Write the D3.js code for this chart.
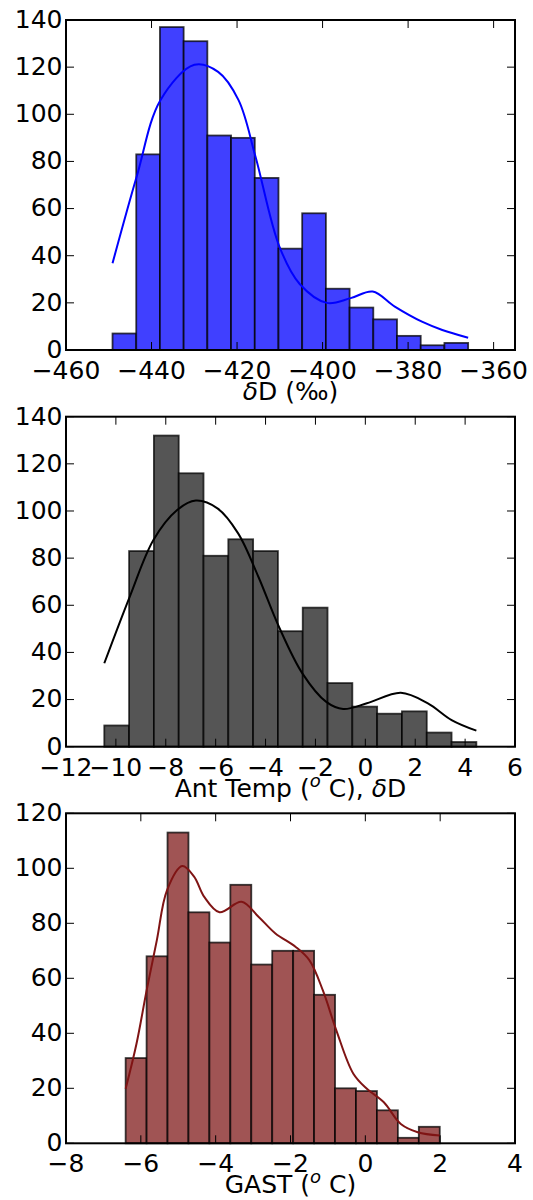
<!DOCTYPE html>
<html><head><meta charset="utf-8">
<script src="https://cdn.jsdelivr.net/npm/d3@7/dist/d3.min.js"></script>
<style>
body{margin:0;background:#fff}
svg text{font-family:"DejaVu Sans",sans-serif;fill:#000}
</style>
</head><body>
<svg id="chart" width="533" height="1200"></svg>
<script>
// ---------- Panel 1: deltaD ----------
const dDCounts = [7, 83, 137, 131, 91, 90, 73, 43, 58, 26, 18, 13, 6, 2, 3];
const dDBinRange = [-449.12, -365.96];
const dDKdeX = [-449.12, -443.48, -437.92, -429.98, -424.42, -419.65, -415.68, -410.12, -405.35, -399.0, -393.44, -388.28, -383.11, -376.76, -372.0, -365.96];
const dDKdeY = [36.8, 73.5, 106, 121, 118, 106, 82, 44, 28, 20, 22, 24.8, 18.4, 12, 8.5, 5.2];
const dDXDomain = [-460, -355];
const dDXTicks = [-460, -440, -420, -400, -380, -360];
const dDYTicks = [0, 20, 40, 60, 80, 100, 120, 140];

// ---------- Panel 2: Antarctic temperature ----------
const antCounts = [9, 83, 132, 116, 81, 88, 83, 49, 59, 27, 17, 14, 15, 6, 2];
const antBinRange = [-10.465, 4.451];
const antKdeX = [-10.465, -9.446, -8.495, -7.544, -6.797, -5.914, -5.099, -4.284, -3.469, -2.518, -1.567, -0.888, 0.063, 1.421, 2.508, 3.459, 4.451];
const antKdeY = [35.4, 63.6, 87.7, 100.4, 104.4, 101, 90.5, 72, 51, 31, 19, 16, 18.4, 22.9, 18.4, 11.3, 6.8];
const antXDomain = [-12, 6];
const antXTicks = [-12, -10, -8, -6, -4, -2, 0, 2, 4, 6];
const antYTicks = [0, 20, 40, 60, 80, 100, 120, 140];

// ---------- Panel 3: GAST ----------
const gastCounts = [31, 68, 113, 84, 73, 94, 65, 70, 70, 54, 20, 19, 12, 2, 6];
const gastBinRange = [-6.406, 1.989];
const gastKdeX = [-6.406, -6.116, -5.845, -5.573, -5.301, -4.894, -4.577, -4.305, -3.897, -3.309, -2.856, -2.403, -1.860, -1.497, -1.135, -0.773, -0.320, 0.042, 0.495, 0.948, 1.401, 1.989];
const gastKdeY = [19.8, 36.2, 55.6, 73.8, 92, 100.8, 97, 89.6, 84, 87.8, 82.4, 76.3, 71.4, 66.6, 55.6, 41, 25.3, 19.8, 14.9, 7, 4, 2.8];
const gastXDomain = [-8, 4];
const gastXTicks = [-8, -6, -4, -2, 0, 2, 4];
const gastYTicks = [0, 20, 40, 60, 80, 100, 120];

const panels = [
  {counts: dDCounts, range: dDBinRange, kx: dDKdeX, ky: dDKdeY, xd: dDXDomain, xt: dDXTicks, yt: dDYTicks,
   fill: "#4040ff", line: "#0000ff", label: "dD", top: 20},
  {counts: antCounts, range: antBinRange, kx: antKdeX, ky: antKdeY, xd: antXDomain, xt: antXTicks, yt: antYTicks,
   fill: "#555555", line: "#000000", label: "ant", top: 416.7},
  {counts: gastCounts, range: gastBinRange, kx: gastKdeX, ky: gastKdeY, xd: gastXDomain, xt: gastXTicks, yt: gastYTicks,
   fill: "#a05454", line: "#7f1414", label: "gast", top: 813.3}
];

const svg = d3.select("#chart");
const left = 66, right = 515, ph = 330, fs = 25;
const fmt = v => (v < 0 ? "\u2212" + Math.abs(v) : String(v));

panels.forEach(p => {
  const top = p.top, bottom = top + ph;
  const x = d3.scaleLinear().domain(p.xd).range([left, right]);
  const y = d3.scaleLinear().domain([p.yt[0], p.yt[p.yt.length - 1]]).range([bottom, top]);
  const g = svg.append("g");
  const n = p.counts.length;
  const w = (p.range[1] - p.range[0]) / n;
  const bins = p.counts.map((c, i) => ({x0: p.range[0] + i * w, x1: p.range[0] + (i + 1) * w, c}));

  g.selectAll("rect.bar").data(bins).join("rect")
    .attr("x", d => x(d.x0)).attr("width", d => x(d.x1) - x(d.x0))
    .attr("y", d => y(d.c)).attr("height", d => y(0) - y(d.c))
    .attr("fill", p.fill)
    .attr("stroke", "#000").attr("stroke-opacity", 0.75).attr("stroke-width", 1.8);

  const line = d3.line().x(d => x(d[0])).y(d => y(d[1])).curve(d3.curveCatmullRom.alpha(0.5));
  g.append("path").datum(p.kx.map((v, i) => [v, p.ky[i]]))
    .attr("d", line).attr("fill", "none").attr("stroke", p.line).attr("stroke-width", 2);

  const tl = 8;
  p.xt.forEach(t => {
    g.append("line").attr("x1", x(t)).attr("x2", x(t)).attr("y1", bottom).attr("y2", bottom - tl)
      .attr("stroke", "#000").attr("stroke-width", 1);
    g.append("line").attr("x1", x(t)).attr("x2", x(t)).attr("y1", top).attr("y2", top + tl)
      .attr("stroke", "#000").attr("stroke-width", 1);
    g.append("text").attr("x", x(t)).attr("y", bottom + 29).attr("text-anchor", "middle")
      .attr("font-size", fs).text(fmt(t));
  });
  p.yt.forEach(t => {
    g.append("line").attr("x1", left).attr("x2", left + tl).attr("y1", y(t)).attr("y2", y(t))
      .attr("stroke", "#000").attr("stroke-width", 1);
    g.append("line").attr("x1", right).attr("x2", right - tl).attr("y1", y(t)).attr("y2", y(t))
      .attr("stroke", "#000").attr("stroke-width", 1);
    g.append("text").attr("x", left - 3.5).attr("y", y(t) + 7.8).attr("text-anchor", "end")
      .attr("font-size", fs).text(fmt(t));
  });

  g.append("rect").attr("x", left).attr("y", top).attr("width", right - left).attr("height", ph)
    .attr("fill", "none").attr("stroke", "#000").attr("stroke-width", 2);

  const lab = g.append("text").attr("x", (left + right) / 2).attr("y", bottom + 50)
    .attr("text-anchor", "middle").attr("font-size", fs);
  if (p.label === "dD") {
    lab.append("tspan").attr("font-style", "italic").text("\u03b4");
    lab.append("tspan").text("D (\u2030)");
  } else if (p.label === "ant") {
    lab.append("tspan").text("Ant Temp (");
    lab.append("tspan").attr("font-style", "italic").attr("font-size", 18).attr("dy", -10).text("o");
    lab.append("tspan").attr("dy", 10).text(" C), ");
    lab.append("tspan").attr("font-style", "italic").text("\u03b4");
    lab.append("tspan").text("D");
  } else {
    lab.append("tspan").text("GAST (");
    lab.append("tspan").attr("font-style", "italic").attr("font-size", 18).attr("dy", -10).text("o");
    lab.append("tspan").attr("dy", 10).text(" C)");
  }
});
</script>
</body></html>
